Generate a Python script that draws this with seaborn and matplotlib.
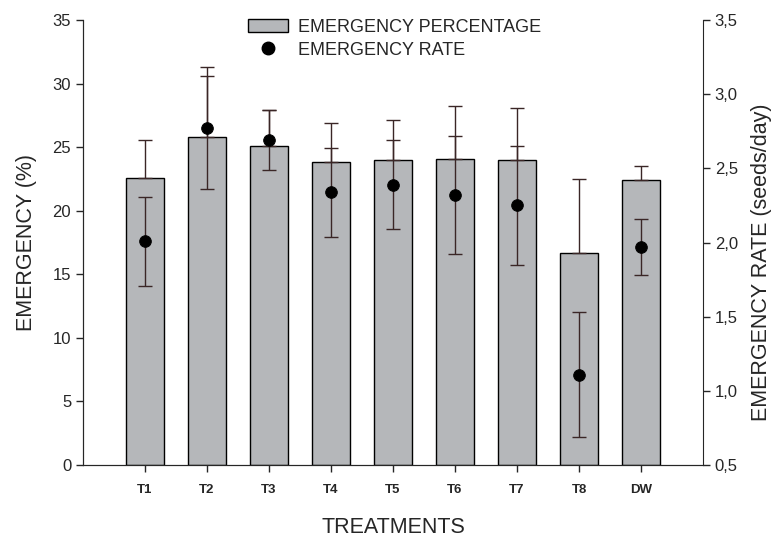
import numpy as np
import matplotlib
matplotlib.use("Agg")
import matplotlib.pyplot as plt
import seaborn as sns
from matplotlib.patches import Patch
from matplotlib.lines import Line2D

# --- data ---
treatments = ["T1", "T2", "T3", "T4", "T5", "T6", "T7", "T8", "DW"]
emergency_pct = [22.6, 25.8, 25.1, 23.8, 24.0, 24.1, 24.0, 16.7, 22.4]
emergency_pct_se = [3.0, 4.8, 2.8, 3.1, 3.1, 4.1, 4.1, 5.8, 1.1]
emergency_rate = [2.01, 2.77, 2.69, 2.34, 2.39, 2.32, 2.25, 1.11, 1.97]
emergency_rate_se = [0.30, 0.41, 0.20, 0.30, 0.30, 0.40, 0.40, 0.42, 0.19]

sns.set_style("ticks")
plt.rcParams['font.family'] = ['Liberation Sans', 'DejaVu Sans']

fig = plt.figure(figsize=(7.82, 5.38), dpi=100)
ax = fig.add_axes([83 / 782, 73 / 538, 620 / 782, 445 / 538])

bar_color = "#b5b7ba"
err_color = "#3a2626"

sns.barplot(x=treatments, y=emergency_pct, color=bar_color, edgecolor="black",
            linewidth=1.0, width=0.6, saturation=1, ax=ax)
xpos = np.arange(len(treatments))
ax.errorbar(xpos, emergency_pct, yerr=[np.zeros(len(treatments)), emergency_pct_se],
            fmt="none", ecolor=err_color, elinewidth=1.0, capsize=5, capthick=1.0, zorder=3)

ax.set_xlim(-1, len(treatments))
ax.set_ylim(0, 35)
ax.set_yticks(range(0, 36, 5))
ax.set_ylabel("EMERGENCY (%)", fontsize=15.5, labelpad=11)
ax.set_xlabel("TREATMENTS", fontsize=15.5, labelpad=15)
ax.tick_params(axis="y", labelsize=12, length=5, width=1)
ax.tick_params(axis="x", labelsize=9.5, length=5, width=1, pad=8.5)
for lab in ax.get_xticklabels():
    lab.set_fontweight("bold")
ax.spines["top"].set_visible(False)
ax.spines["right"].set_visible(False)

# twin axis for the rate
ax2 = ax.twinx()
ax2.errorbar(xpos, emergency_rate, yerr=emergency_rate_se, fmt="none",
             ecolor=err_color, elinewidth=1.0, capsize=5, capthick=1.0, zorder=3)
sns.scatterplot(x=xpos, y=emergency_rate, color="black", s=70, edgecolor="black",
                zorder=4, ax=ax2, legend=False)
ax2.set_ylim(0.5, 3.5)
ax2.set_yticks(np.arange(0.5, 3.51, 0.5))
ax2.set_yticklabels([f"{v:.1f}".replace(".", ",") for v in np.arange(0.5, 3.51, 0.5)])
ax2.set_ylabel("EMERGENCY RATE (seeds/day)", fontsize=15.5, labelpad=8)
ax2.yaxis.set_label_coords(1.078, 0.456)
ax2.tick_params(axis="y", labelsize=12, length=5, width=1)
ax2.spines["top"].set_visible(False)
ax2.set_xlim(-1, len(treatments))

handles = [Patch(facecolor=bar_color, edgecolor="black", label="EMERGENCY PERCENTAGE"),
           Line2D([], [], marker="o", color="black", linestyle="none", markersize=9,
                  label="EMERGENCY RATE")]
ax2.legend(handles=handles, loc="upper left", bbox_to_anchor=(0.266, 1.002), frameon=False,
           fontsize=13, handlelength=2.2, handleheight=0.7, handletextpad=0.55,
           labelspacing=0.3, borderpad=0, borderaxespad=0)

fig.savefig("out.png", dpi=100)
